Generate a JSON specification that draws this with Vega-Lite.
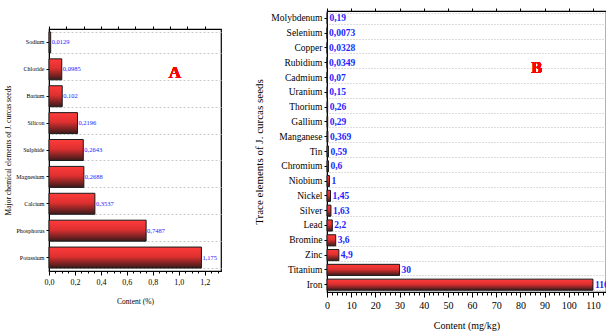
{
  "$schema": "https://vega.github.io/schema/vega-lite/v6.json",
  "padding": {"left": 4, "top": 5, "right": 0, "bottom": 0},
  "background": "white",
  "spacing": 31,
  "config": {
    "view": {"stroke": "black", "strokeWidth": 1.2},
    "axis": {"domainColor": "black", "tickColor": "black", "labelColor": "black", "titleColor": "black"}
  },
  "hconcat": [
    {
      "spacing": 7,
      "vconcat": [
        {
          "width": 172,
          "height": 1,
          "view": {"stroke": null},
          "data": {"values": [{}]},
          "mark": {"type": "text", "text": ""},
          "encoding": {}
        },
        {
          "width": 172,
          "height": 242,
          "data": {
            "values": [
              {"element": "Sodium", "value": 0.0129, "label": "0,0129"},
              {"element": "Chloride", "value": 0.0985, "label": "0,0985"},
              {"element": "Barium", "value": 0.102, "label": "0,102"},
              {"element": "Silicon", "value": 0.2196, "label": "0,2196"},
              {"element": "Sulphide", "value": 0.2643, "label": "0,2643"},
              {"element": "Magnesium", "value": 0.2688, "label": "0,2688"},
              {"element": "Calcium", "value": 0.3537, "label": "0,3537"},
              {"element": "Phosphorus", "value": 0.7487, "label": "0,7487"},
              {"element": "Potassium", "value": 1.175, "label": "1,175"}
            ]
          },
          "layer": [
            {
              "mark": {
                "type": "bar",
                "color": {"gradient": "linear", "x1": 0, "y1": 0, "x2": 0, "y2": 1,
                  "stops": [{"offset": 0, "color": "#ff3b3b"}, {"offset": 0.45, "color": "#df3030"}, {"offset": 1, "color": "#3a1a1a"}]},
                "stroke": "#1a1a1a",
                "strokeWidth": 1
              },
              "encoding": {
                "y": {
                  "field": "element", "type": "nominal", "sort": null,
                  "scale": {"domain": ["Sodium", "Chloride", "Barium", "Silicon", "Sulphide", "Magnesium", "Calcium", "Phosphorus", "Potassium"], "paddingInner": 0.22, "paddingOuter": 0.11},
                  "axis": {
                    "title": "Major chemical elements of J. curcas seeds",
                    "titleFont": "Liberation Serif", "titleFontSize": 7.5, "titleFontWeight": "normal", "titlePadding": 3,
                    "labelFont": "Liberation Serif", "labelFontSize": 6, "tickSize": 3, "labelPadding": 2, "grid": false
                  }
                },
                "x": {
                  "field": "value", "type": "quantitative",
                  "scale": {"domain": [0, 1.326], "nice": false, "zero": true},
                  "axis": {
                    "title": "Content (%)",
                    "titleFont": "Liberation Serif", "titleFontSize": 7.5, "titleFontWeight": "normal", "titlePadding": 11,
                    "labelFont": "Liberation Sans Narrow", "labelFontSize": 8, "labelPadding": 3,
                    "grid": false,
                    "values": [0, 0.05, 0.1, 0.15, 0.2, 0.25, 0.3, 0.35, 0.4, 0.45, 0.5, 0.55, 0.6, 0.65, 0.7, 0.75, 0.8, 0.85, 0.9, 0.95, 1, 1.05, 1.1, 1.15, 1.2, 1.25, 1.3],
                    "labelExpr": "abs(datum.value*5 - round(datum.value*5)) < 0.001 ? replace(format(datum.value, '.1f'), '.', ',') : ''",
                    "tickSize": {"condition": {"test": "abs(datum.value*5 - round(datum.value*5)) < 0.001", "value": 4}, "value": 2},
                    "labelFlush": false, "labelOverlap": false
                  }
                }
              }
            },
            {
              "mark": {"type": "text", "align": "left", "baseline": "middle", "dx": 1, "color": "#2222ff", "font": "Liberation Sans Narrow", "fontSize": 6.5},
              "encoding": {
                "y": {
                  "field": "element", "type": "nominal", "sort": null,
                  "axis": {"orient": "right", "title": null, "labels": false, "ticks": false, "grid": true, "tickBand": "extent", "gridDash": [2, 2], "gridColor": "#c8c8c8", "domain": false}
                },
                "x": {
                  "field": "value", "type": "quantitative",
                  "axis": {"orient": "top", "title": null, "labels": false, "grid": false, "tickSize": 3, "domain": false,
                    "values": [0, 0.1333, 0.2667, 0.4, 0.5333, 0.6667, 0.8, 0.9333, 1.0667, 1.2]}
                },
                "text": {"field": "label"}
              }
            },
            {
              "mark": {"type": "text", "text": "A", "color": "#ff0000", "font": "Liberation Serif", "fontWeight": "bold", "fontSize": 17, "baseline": "middle", "dy": 4},
              "encoding": {
                "x": {"datum": 0.97, "type": "quantitative", "axis": null},
                "y": {"datum": "Chloride", "type": "nominal", "axis": null}
              }
            }
          ],
          "resolve": {"axis": {"x": "independent", "y": "independent"}}
        }
      ]
    },
    {
      "width": 279,
      "height": 281,
      "data": {
        "values": [
          {"element": "Molybdenum", "value": 0.19, "label": "0,19"},
          {"element": "Selenium", "value": 0.0073, "label": "0,0073"},
          {"element": "Copper", "value": 0.0328, "label": "0,0328"},
          {"element": "Rubidium", "value": 0.0349, "label": "0,0349"},
          {"element": "Cadmium", "value": 0.07, "label": "0,07"},
          {"element": "Uranium", "value": 0.15, "label": "0,15"},
          {"element": "Thorium", "value": 0.26, "label": "0,26"},
          {"element": "Gallium", "value": 0.29, "label": "0,29"},
          {"element": "Manganese", "value": 0.369, "label": "0,369"},
          {"element": "Tin", "value": 0.59, "label": "0,59"},
          {"element": "Chromium", "value": 0.6, "label": "0,6"},
          {"element": "Niobium", "value": 1, "label": "1"},
          {"element": "Nickel", "value": 1.45, "label": "1,45"},
          {"element": "Silver", "value": 1.63, "label": "1,63"},
          {"element": "Lead", "value": 2.2, "label": "2,2"},
          {"element": "Bromine", "value": 3.6, "label": "3,6"},
          {"element": "Zinc", "value": 4.9, "label": "4,9"},
          {"element": "Titanium", "value": 30, "label": "30"},
          {"element": "Iron", "value": 110, "label": "110"}
        ]
      },
      "layer": [
        {
          "mark": {
            "type": "bar",
            "color": {"gradient": "linear", "x1": 0, "y1": 0, "x2": 0, "y2": 1,
              "stops": [{"offset": 0, "color": "#ff3b3b"}, {"offset": 0.45, "color": "#df3030"}, {"offset": 1, "color": "#3a1a1a"}]},
            "stroke": "#1a1a1a",
            "strokeWidth": 1
          },
          "encoding": {
            "y": {
              "field": "element", "type": "nominal", "sort": null,
              "scale": {"domain": ["Molybdenum", "Selenium", "Copper", "Rubidium", "Cadmium", "Uranium", "Thorium", "Gallium", "Manganese", "Tin", "Chromium", "Niobium", "Nickel", "Silver", "Lead", "Bromine", "Zinc", "Titanium", "Iron"], "paddingInner": 0.25, "paddingOuter": 0.12},
              "axis": {
                "title": "Trace elements of J. curcas seeds",
                "titleFont": "Liberation Serif", "titleFontSize": 11, "titleFontWeight": "normal", "titlePadding": 6,
                "labelFont": "Liberation Serif", "labelFontSize": 9.5, "tickSize": 3, "labelPadding": 2, "grid": false
              }
            },
            "x": {
              "field": "value", "type": "quantitative",
              "scale": {"domain": [0, 115.4], "nice": false, "zero": true},
              "axis": {
                "title": "Content (mg/kg)",
                "titleFont": "Liberation Serif", "titleFontSize": 10, "titleFontWeight": "normal", "titlePadding": 10,
                "labelFont": "Liberation Sans Narrow", "labelFontSize": 10, "labelPadding": 3,
                "grid": false,
                "values": [0, 2, 4, 6, 8, 10, 12, 14, 16, 18, 20, 22, 24, 26, 28, 30, 32, 34, 36, 38, 40, 42, 44, 46, 48, 50, 52, 54, 56, 58, 60, 62, 64, 66, 68, 70, 72, 74, 76, 78, 80, 82, 84, 86, 88, 90, 92, 94, 96, 98, 100, 102, 104, 106, 108, 110, 112, 114],
                "labelExpr": "datum.value % 10 == 0 ? datum.value : ''",
                "tickSize": {"condition": {"test": "datum.value % 10 == 0", "value": 5}, "value": 3},
                "labelFlush": false, "labelOverlap": false
              }
            }
          }
        },
        {
          "mark": {"type": "text", "align": "left", "baseline": "middle", "dx": 2, "color": "#1f1fff", "font": "Liberation Serif", "fontWeight": "bold", "fontSize": 9.5, "clip": true},
          "encoding": {
            "y": {
              "field": "element", "type": "nominal", "sort": null,
              "axis": {"orient": "right", "title": null, "labels": false, "ticks": false, "grid": true, "tickBand": "extent", "gridDash": [1, 2], "gridColor": "#b8b8b8", "domain": false}
            },
            "x": {
              "field": "value", "type": "quantitative",
              "axis": {"orient": "top", "title": null, "labels": false, "grid": false, "tickSize": 3, "domain": false,
                "values": [0, 10, 20, 30, 40, 50, 60, 70, 80, 90, 100, 110]}
            },
            "text": {"field": "label"}
          }
        },
        {
          "mark": {"type": "text", "text": "B", "color": "#ff0000", "font": "Liberation Serif", "fontWeight": "bold", "fontSize": 16, "baseline": "middle", "dy": 5},
          "encoding": {
            "x": {"datum": 86.8, "type": "quantitative", "axis": null},
            "y": {"datum": "Rubidium", "type": "nominal", "axis": null}
          }
        }
      ],
      "resolve": {"axis": {"x": "independent", "y": "independent"}}
    }
  ]
}
